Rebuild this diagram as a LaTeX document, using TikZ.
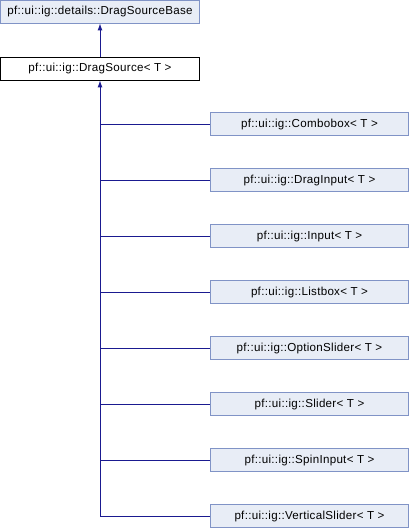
\documentclass[tikz,border=0pt]{standalone}
\usepackage{fontspec}
\setmainfont{Liberation Sans}[LetterSpace=2.5]
\usetikzlibrary{arrows.meta}
\definecolor{boxfill}{HTML}{E8EDF6}
\definecolor{boxline}{HTML}{8093C6}
\definecolor{edge}{HTML}{1A1A90}
\begin{document}
\begin{tikzpicture}[x=1pt,y=-1pt,
  cls/.style={draw=boxline,fill=boxfill,line width=0.8pt,minimum height=23pt,inner sep=0pt,font=\fontsize{11.6}{13}\selectfont,anchor=center},
  cur/.style={cls,draw=black,fill=white},
  edg/.style={draw=edge,line width=1pt},
  inh/.style={edg,{Latex[length=7pt,width=5pt]}-}]
\useasboundingbox (0,0) rectangle (410,528);
\node[cls,minimum width=199pt] (base) at (100,11.5) {pf::ui::ig::details::DragSourceBase};
\node[cur,minimum width=199pt] (ds) at (100,68.5) {pf::ui::ig::DragSource< T >};
\draw[inh] (base.south) -- (ds.north);
\foreach \n/\t [count=\i from 0] in {cb/Combobox,di/DragInput,in/Input,lb/Listbox,os/OptionSlider,sl/Slider,si/SpinInput,vs/VerticalSlider}{
  \node[cls,minimum width=198pt] (\n) at (309.5,{124+56*\i}) {pf::ui::ig::\t< T >};
}
\coordinate (j) at (ds.south |- vs.west);
\draw[inh] (ds.south) -- (j) -- (vs.west);
\foreach \n in {cb,di,in,lb,os,sl,si}{
  \draw[edg] (ds.south |- \n.west) -- (\n.west);
}
\end{tikzpicture}
\end{document}
